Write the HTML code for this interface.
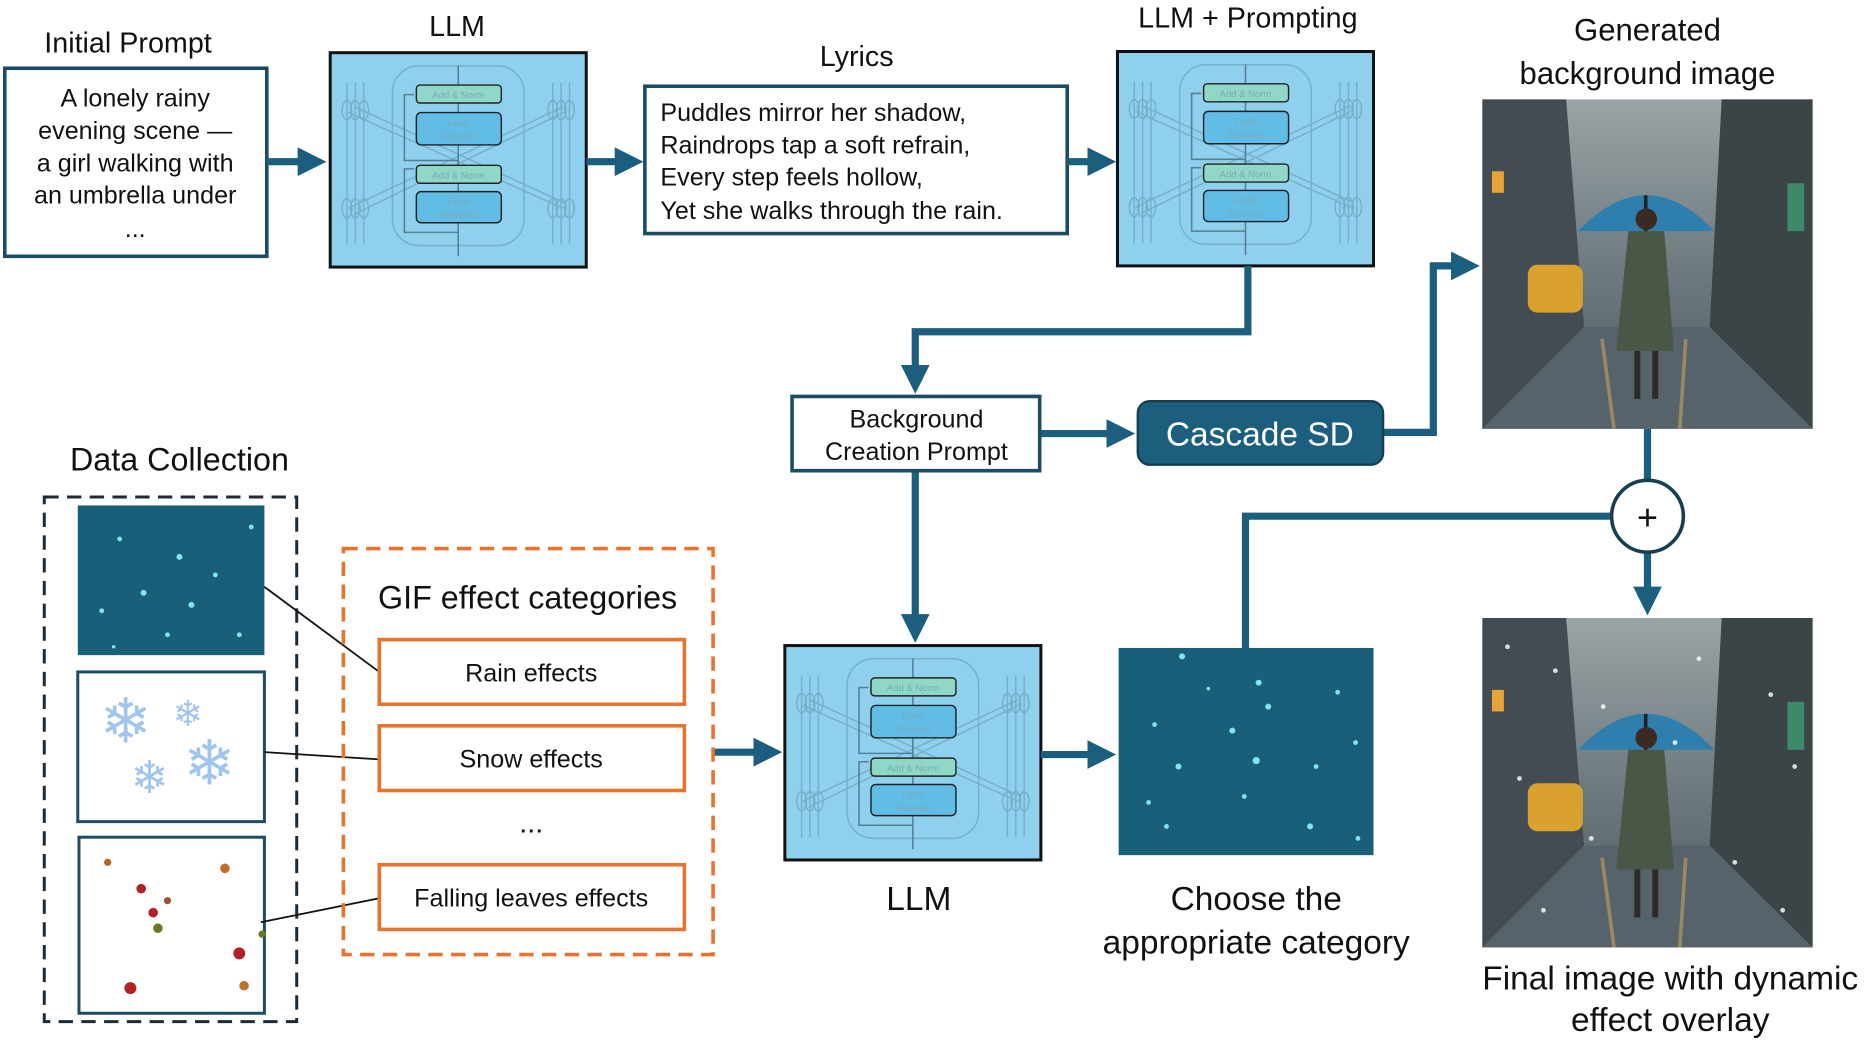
<!DOCTYPE html>
<html><head><meta charset="utf-8"><style>html,body{margin:0;padding:0;background:#fff}svg{display:block}text{font-family:"Liberation Sans",sans-serif}</style></head><body>
<svg width="1876" height="1042" viewBox="0 0 1568 870" preserveAspectRatio="none" xmlns="http://www.w3.org/2000/svg">
<defs>
<marker id="ah" markerWidth="4" markerHeight="4" refX="2.2" refY="2" orient="auto" markerUnits="strokeWidth"><path d="M0,0 L4,2 L0,4 Z" fill="#1b5e7e"/></marker>
<linearGradient id="sky" x1="0" y1="0" x2="0" y2="1"><stop offset="0" stop-color="#9aa4a6"/><stop offset="0.5" stop-color="#6f7b80"/><stop offset="1" stop-color="#4d5a62"/></linearGradient>
<g id="llm">
<rect x="0" y="0" width="214" height="179" fill="#8fd0ee" stroke="#111" stroke-width="2.5"/>
<g stroke="#6fa7c0" stroke-width="1.2" fill="none" opacity="0.8">
<rect x="52" y="11" width="110" height="150" rx="22"/>
<line x1="15" y1="50" x2="195" y2="130"/><line x1="20" y1="45" x2="195" y2="125"/>
<line x1="15" y1="130" x2="195" y2="45"/><line x1="20" y1="135" x2="195" y2="50"/>
<ellipse cx="14" cy="48" rx="4" ry="8"/><ellipse cx="21" cy="48" rx="4" ry="8"/><ellipse cx="28" cy="48" rx="4" ry="8"/>
<ellipse cx="14" cy="130" rx="4" ry="8"/><ellipse cx="21" cy="130" rx="4" ry="8"/><ellipse cx="28" cy="130" rx="4" ry="8"/>
<ellipse cx="186" cy="48" rx="4" ry="8"/><ellipse cx="193" cy="48" rx="4" ry="8"/><ellipse cx="200" cy="48" rx="4" ry="8"/>
<ellipse cx="186" cy="130" rx="4" ry="8"/><ellipse cx="193" cy="130" rx="4" ry="8"/><ellipse cx="200" cy="130" rx="4" ry="8"/>
<path d="M14,25V160M21,25V160M28,25V160M186,25V160M193,25V160M200,25V160"/>
</g>
<path d="M107,11V170M107,150H62V97H70M107,90H62V35H70" stroke="#557f93" stroke-width="1.3" fill="none"/>
<rect x="72" y="27" width="71" height="15" rx="3" fill="#8fd8c8" stroke="#222" stroke-width="1.2"/>
<rect x="72" y="50" width="71" height="27" rx="4" fill="#62bde6" stroke="#222" stroke-width="1.2"/>
<rect x="72" y="94" width="71" height="15" rx="3" fill="#8fd8c8" stroke="#222" stroke-width="1.2"/>
<rect x="72" y="116" width="71" height="26" rx="4" fill="#62bde6" stroke="#222" stroke-width="1.2"/>
<g fill="#7aa9b8" font-size="8" text-anchor="middle"><text x="107" y="38">Add &amp; Norm</text><text x="107" y="61">Feed</text><text x="107" y="72">Forward</text><text x="107" y="105">Add &amp; Norm</text><text x="107" y="127">Feed</text><text x="107" y="138">Forward</text></g>
</g>
<g id="street">
<rect x="0" y="0" width="276" height="275" fill="url(#sky)"/>
<polygon points="0,0 70,0 85,190 0,275" fill="#424c52"/>
<polygon points="276,0 200,0 190,190 276,275" fill="#3b4548"/>
<polygon points="85,190 190,190 276,275 0,275" fill="#56636b"/>
<path d="M100,200 L110,275 M170,200 L165,275" stroke="#c9a25a" stroke-width="3" opacity="0.6"/>
<rect x="8" y="60" width="10" height="18" fill="#e8a23a"/><rect x="255" y="70" width="14" height="40" fill="#3d8a6a"/>
<rect x="38" y="138" width="46" height="40" rx="8" fill="#d9a12e"/>
<path d="M80,110 Q137,50 194,110 Z" fill="#2f7fae"/>
<rect x="135" y="80" width="3" height="40" fill="#222"/>
<path d="M122,110 L152,110 L160,210 L112,210 Z" fill="#4a5646"/>
<circle cx="137" cy="100" r="9" fill="#3a2a22"/>
<rect x="127" y="210" width="5" height="40" fill="#2d2a28"/><rect x="142" y="210" width="5" height="40" fill="#2d2a28"/>
</g>
</defs>

<g fill="#111" font-size="24" text-anchor="middle">
<text x="107" y="44">Initial Prompt</text>
<text x="382" y="30">LLM</text>
<text x="716" y="55">Lyrics</text>
<text x="1043" y="23">LLM + Prompting</text>
<text x="1377" y="34" font-size="26">Generated</text>
<text x="1377" y="70" font-size="26">background image</text>
<text x="150" y="393" font-size="27">Data Collection</text>
<text x="441" y="508" font-size="27">GIF effect categories</text>
<text x="768" y="760" font-size="28">LLM</text>
<text x="1050" y="760" font-size="28">Choose the</text>
<text x="1050" y="796" font-size="28">appropriate category</text>
<text x="1396" y="826" font-size="28">Final image with dynamic</text>
<text x="1396" y="861" font-size="28">effect overlay</text>
</g>

<rect x="4" y="57" width="219" height="157" fill="#fff" stroke="#1a4d63" stroke-width="3"/>
<g font-size="21" text-anchor="middle" fill="#111"><text x="113" y="89">A lonely rainy</text><text x="113" y="116">evening scene —</text><text x="113" y="143">a girl walking with</text><text x="113" y="170">an umbrella under</text><text x="113" y="198">...</text></g>

<use href="#llm" x="276" y="44"/>
<use href="#llm" x="934" y="43"/>
<use href="#llm" x="656" y="539"/>

<rect x="539" y="72" width="353" height="123" fill="#fff" stroke="#1a4d63" stroke-width="3"/>
<g font-size="21" fill="#111"><text x="552" y="101">Puddles mirror her shadow,</text><text x="552" y="128">Raindrops tap a soft refrain,</text><text x="552" y="155">Every step feels hollow,</text><text x="552" y="183">Yet she walks through the rain.</text></g>

<g stroke="#1b5e7e" stroke-width="6" fill="none" marker-end="url(#ah)">
<line x1="223" y1="135" x2="262" y2="135"/>
<line x1="490" y1="135" x2="527" y2="135"/>
<line x1="892" y1="135" x2="922" y2="135"/>
<polyline points="1043,222 1043,277 765,277 765,318"/>
<line x1="869" y1="362" x2="938" y2="362"/>
<polyline points="1156,361 1198,361 1198,222 1226,222"/>
<line x1="765" y1="393" x2="765" y2="526"/>
<line x1="1377" y1="461" x2="1377" y2="503"/>
<line x1="596" y1="628" x2="643" y2="628"/>
<line x1="870" y1="630" x2="922" y2="630"/>
</g>
<g stroke="#1b5e7e" stroke-width="6" fill="none">
<line x1="1377" y1="358" x2="1377" y2="401"/>
<polyline points="1347,431 1041,431 1041,541"/>
</g>
<circle cx="1377" cy="431" r="30" fill="#fff" stroke="#163f52" stroke-width="3"/>
<text x="1377" y="442" font-size="30" text-anchor="middle" fill="#111">+</text>

<rect x="662" y="331" width="207" height="62" fill="#fff" stroke="#1a4d63" stroke-width="3"/>
<g font-size="21" text-anchor="middle" fill="#111"><text x="766" y="357">Background</text><text x="766" y="384">Creation Prompt</text></g>
<rect x="951" y="335" width="205" height="53" rx="10" fill="#1b5e7e" stroke="#163f52" stroke-width="2"/>
<text x="1053" y="372" font-size="28" text-anchor="middle" fill="#fff">Cascade SD</text>

<use href="#street" x="1239" y="83"/>
<use href="#street" x="1239" y="516"/>
<g fill="#fff" opacity="0.8">
<circle cx="1260" cy="540" r="2"/><circle cx="1300" cy="560" r="2"/><circle cx="1340" cy="590" r="2"/><circle cx="1420" cy="550" r="2"/><circle cx="1480" cy="580" r="2"/><circle cx="1500" cy="640" r="2"/><circle cx="1270" cy="650" r="2"/><circle cx="1330" cy="700" r="2"/><circle cx="1450" cy="720" r="2"/><circle cx="1290" cy="760" r="2"/><circle cx="1490" cy="760" r="2"/><circle cx="1400" cy="620" r="2"/>
</g>

<rect x="935" y="541" width="213" height="173" fill="#1a5f7a"/>
<g fill="#7fe6f0">
<circle cx="988" cy="548" r="2.5"/><circle cx="1052" cy="570" r="2.5"/><circle cx="1060" cy="590" r="2.5"/><circle cx="1118" cy="578" r="2"/><circle cx="965" cy="605" r="2"/><circle cx="1030" cy="610" r="2.5"/><circle cx="1050" cy="635" r="3"/><circle cx="985" cy="640" r="2.5"/><circle cx="1133" cy="620" r="2"/><circle cx="960" cy="670" r="2"/><circle cx="1095" cy="690" r="2.5"/><circle cx="1040" cy="665" r="2"/><circle cx="975" cy="690" r="2"/><circle cx="1135" cy="700" r="2"/><circle cx="1100" cy="640" r="2"/><circle cx="1010" cy="575" r="1.5"/>
</g>

<rect x="37" y="415" width="211" height="438" fill="none" stroke="#1d2b36" stroke-width="2.5" stroke-dasharray="12,7"/>
<rect x="65" y="422" width="156" height="125" fill="#1a5f7a"/>
<g fill="#7fe6f0"><circle cx="100" cy="450" r="2"/><circle cx="150" cy="465" r="2.5"/><circle cx="180" cy="480" r="2"/><circle cx="120" cy="495" r="2.5"/><circle cx="85" cy="510" r="2"/><circle cx="160" cy="505" r="2.5"/><circle cx="200" cy="530" r="2"/><circle cx="140" cy="530" r="2"/><circle cx="210" cy="440" r="2"/><circle cx="95" cy="540" r="1.5"/></g>
<rect x="65" y="561" width="156" height="125" fill="#fff" stroke="#1a4d63" stroke-width="2.5"/>
<g fill="#9fc6ec" font-size="52" text-anchor="middle"><text x="105" y="620">❄</text><text x="175" y="655">❄</text><text x="125" y="662" font-size="38">❄</text><text x="157" y="606" font-size="30">❄</text></g>
<rect x="66" y="699" width="155" height="147" fill="#fff" stroke="#1a4d63" stroke-width="2.5"/>
<g><circle cx="90" cy="720" r="3" fill="#b5651d"/><circle cx="188" cy="725" r="4" fill="#c0702a"/><circle cx="118" cy="742" r="4" fill="#b22222"/><circle cx="140" cy="752" r="3" fill="#a0522d"/><circle cx="128" cy="762" r="4" fill="#b22222"/><circle cx="132" cy="775" r="4" fill="#6b7a1d"/><circle cx="200" cy="796" r="5" fill="#b22222"/><circle cx="109" cy="825" r="5" fill="#b22222"/><circle cx="204" cy="823" r="4" fill="#c0702a"/><circle cx="219" cy="780" r="3" fill="#6b7a1d"/></g>

<g stroke="#111" stroke-width="1.5"><line x1="221" y1="490" x2="317" y2="561"/><line x1="221" y1="628" x2="317" y2="634"/><line x1="218" y1="770" x2="317" y2="750"/></g>

<rect x="287" y="458" width="309" height="339" fill="none" stroke="#e8732c" stroke-width="3" stroke-dasharray="12,7"/>
<g fill="#fff" stroke="#e8732c" stroke-width="3"><rect x="317" y="534" width="255" height="54"/><rect x="317" y="606" width="255" height="54"/><rect x="317" y="722" width="255" height="54"/></g>
<g font-size="21" text-anchor="middle" fill="#111"><text x="444" y="569">Rain effects</text><text x="444" y="641">Snow effects</text><text x="444" y="695" font-size="24">...</text><text x="444" y="757">Falling leaves effects</text></g>
</svg>
</body></html>
